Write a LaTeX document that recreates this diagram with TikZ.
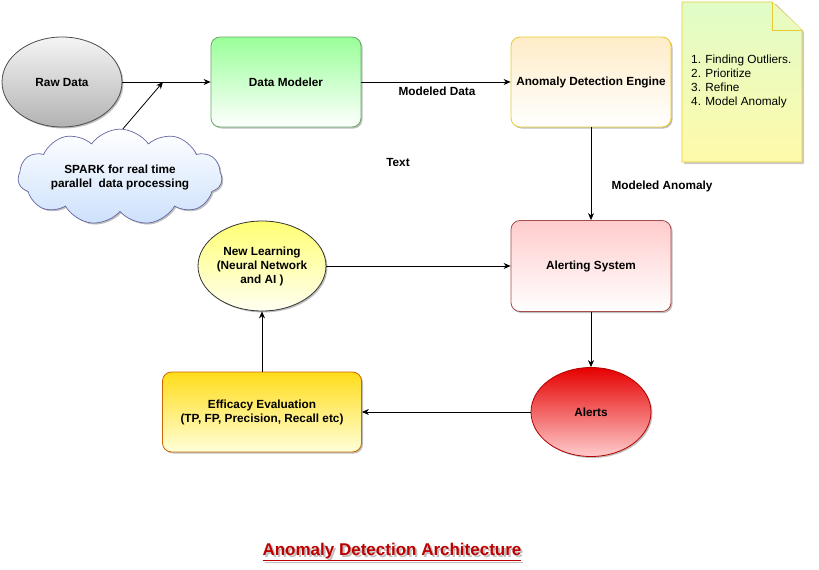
\documentclass[tikz,border=0pt]{standalone}
\usepackage{fontspec}
\setmainfont{Liberation Sans}
\usetikzlibrary{shapes.geometric,shapes.symbols,arrows.meta,shadows}
\definecolor{cloudblue}{RGB}{205,225,252}
\definecolor{peach}{RGB}{255,236,200}
\definecolor{notegreen}{RGB}{224,252,200}
\definecolor{noteyellow}{RGB}{255,250,170}
\definecolor{titlered}{RGB}{190,0,0}
\begin{document}
\begin{tikzpicture}[x=1pt,y=-1pt,
  every node/.style={font=\fontsize{11.8}{14}\selectfont\bfseries, align=center},
  shad/.style={drop shadow={shadow xshift=1.5pt,shadow yshift=-1.5pt,opacity=0.25,fill=black}},
  rbox/.style={rectangle, rounded corners=9pt, minimum width=150pt, minimum height=90pt, shad, line width=0.8pt},
  ell/.style={ellipse, minimum width=120pt, minimum height=90pt, shad, line width=0.8pt, inner sep=0pt},
  arr/.style={-{Stealth[length=7pt,width=6pt]}, line width=0.8pt},
  lbl/.style={font=\fontsize{11.8}{14}\selectfont\bfseries}
]
\useasboundingbox (0,0) rectangle (819,570);
\fill[white] (0,0) rectangle (819,570);

% Raw Data
\node[ell, draw=black!70, top color=gray!8, bottom color=gray!60] (raw) at (62,82) {Raw Data};
% Data Modeler
\node[rbox, draw=green!45!black!60, top color=green!40!white, bottom color=white] (dm) at (286,82) {Data Modeler};
% Anomaly Detection Engine
\node[rbox, minimum width=160pt, draw=yellow!60!brown, top color=peach, bottom color=white] (ade) at (591,82) {Anomaly Detection Engine};
% Cloud
\node[cloud, cloud puffs=11, cloud puff arc=110, aspect=2.8, minimum width=204pt, minimum height=76pt, draw=blue!40!black!60, top color=white, bottom color=cloudblue, shad, line width=0.7pt, inner sep=0pt] (spark) at (120,177) {SPARK for real time\\parallel\ \ data processing};
\coordinate (join) at (163,82);

% Note
\fill[black, opacity=0.2] (684,4) -- (776,4) -- (804,32) -- (804,164) -- (684,164) -- cycle;
\draw[draw=yellow!60!brown, line width=0.8pt, top color=notegreen, bottom color=noteyellow] (682,2) -- (772,2) -- (802,30) -- (802,162) -- (682,162) -- cycle;
\draw[draw=yellow!60!brown, line width=0.8pt, fill=notegreen!70!noteyellow] (772,2) -- (772,30) -- (802,30);
\node[font=\fontsize{11.8}{14}\selectfont, align=left, anchor=west, inner sep=0pt] (note) at (691,81) {1. Finding Outliers.\\2. Prioritize\\3. Refine\\4. Model Anomaly};

% Alerting System
\node[rbox, minimum width=160pt, minimum height=91pt, draw=red!50!black!70, top color=red!20, bottom color=white] (alsys) at (591,266) {Alerting System};
% New Learning
\node[ell, draw=black!80, top color=yellow!55, bottom color=yellow!5] (nl) at (262,266) {New Learning\\(Neural Network\\and AI )};
% Alerts
\node[ell, minimum height=89pt, draw=red!70!black, top color=red!90!black, bottom color=red!20] (alerts) at (591,412) {Alerts};
% Efficacy
\node[rbox, minimum width=199pt, minimum height=80pt, draw=orange!80!black, top color=orange!30!yellow!90, bottom color=yellow!15] (eff) at (262,412) {Efficacy Evaluation\\(TP, FP, Precision, Recall etc)};

% Connectors
\draw[arr] (raw.east) -- (dm.west);
\draw[arr] (spark.north) ++(3,0) coordinate (sp) (sp) -- (join);
\draw[arr] (dm.east) -- (ade.west);
\node[lbl] (mdl) at (437,91) {Modeled Data};
\draw[arr] (ade.south) -- (alsys.north);
\node[lbl] (man) at (662,186) {Modeled Anomaly};
\draw[arr] (nl.east) -- (alsys.west);
\draw[arr] (alsys.south) -- (alerts.north);
\draw[arr] (alerts.west) -- (eff.east);
\draw[arr] (eff.north) -- (nl.south);

% Free text
\node[lbl] (txt) at (398,162) {Text};

% Title
\node[font=\fontsize{17}{20}\selectfont\bfseries, text=black, opacity=0.25] at (394,554) {\underline{Anomaly Detection Architecture}};
\node[font=\fontsize{17}{20}\selectfont\bfseries, text=titlered] (title) at (392,552) {\underline{Anomaly Detection Architecture}};
\end{tikzpicture}
\end{document}
